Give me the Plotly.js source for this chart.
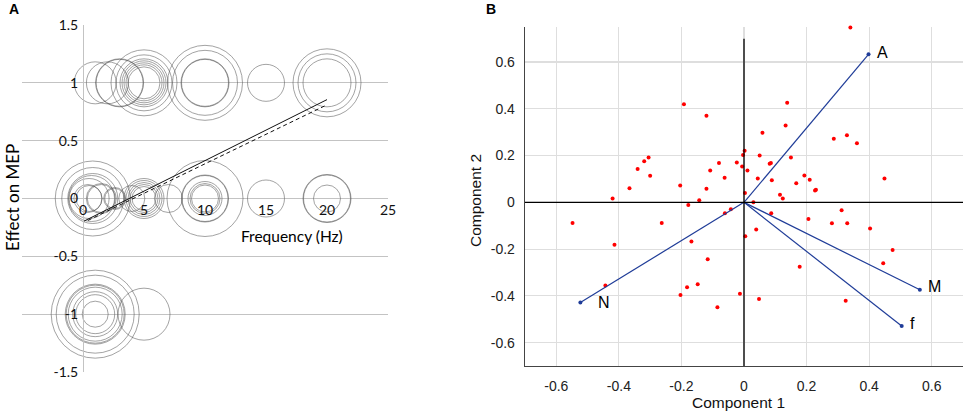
<!DOCTYPE html>
<html>
<head>
<meta charset="utf-8">
<script src="https://cdn.plot.ly/plotly-3.0.1.min.js"></script>
<style>
  html, body { margin: 0; padding: 0; background: #fff; }
  #chart { width: 964px; height: 414px; }
</style>
</head>
<body>
<div id="chart"></div>
<script>
// ---- panel A: bubble plot, frequency vs effect on MEP ----
const freqA = [1, 2, 3, 3, 5, 5, 5, 5, 5, 5, 5, 10, 10, 10, 10, 15, 20, 20, 20,
  0.8, 0.8, 0.8, 0.7, 0.5, 0.4, 0.5, 1.5, 1.5, 2.6, 2.6, 4, 5, 5, 5, 5, 5, 7,
  10, 10, 10, 10, 10, 10, 15, 20, 20, 20,
  1, 1, 1, 1, 1, 1, 1, 1, 5];
const effectA = [1, 1, 1, 1, 1, 1, 1, 1, 1, 1, 1, 1, 1, 1, 1, 1, 1, 1, 1,
  0, 0, 0, 0, 0, 0, 0, 0, 0, 0, 0, 0, 0, 0, 0, 0, 0, 0,
  0, 0, 0, 0, 0, 0, 0, 0, 0, 0,
  -1, -1, -1, -1, -1, -1, -1, -1, -1];
const sizeA = [42, 42, 47, 48, 66, 56, 48, 44, 40, 36, 32, 75, 65, 48, 47, 37, 68, 58, 48,
  75, 62, 50, 46, 40, 28, 26, 30, 28, 22, 20, 26, 40, 36, 32, 28, 24, 28,
  76, 46, 47, 34, 30, 27, 37, 47, 48, 27,
  88, 78, 60, 58, 54, 45, 39, 26, 52];
const fitX = [0, 20];
const fitY = [-0.2, 0.855];
const trendX = [0.4, 19.8];
const trendY = [-0.19, 0.8];
const ticksAx = [0, 5, 10, 15, 20, 25];
const ticksAy = [-1.5, -1, -0.5, 0, 0.5, 1, 1.5];

// ---- panel B: PCA scores and loadings ----
const comp1 = [0.340, -0.192, -0.120, 0.138, 0.133, 0.059, 0.287, 0.329, 0.361, 0.449,
  -0.420, -0.366, -0.340, -0.319, -0.305, -0.300, -0.204, -0.120, -0.143, -0.178,
  -0.108, -0.080, -0.062, -0.023, -0.006, -0.003, 0.002, 0.011, 0.003, 0.050,
  0.044, 0.082, 0.086, 0.089, 0.150, 0.193, 0.210, 0.167, 0.227, 0.230,
  0.115, 0.124, 0.030, -0.042, 0.312, -0.548, -0.414, -0.443, -0.263, -0.168,
  -0.116, -0.182, -0.148, -0.203, -0.085, -0.013, 0.048, -0.061, 0.004, 0.039,
  0.087, 0.206, 0.281, 0.330, 0.403, 0.475, 0.445, 0.178, 0.325];
const comp2 = [0.748, 0.420, 0.370, 0.426, 0.329, 0.298, 0.272, 0.287, 0.253, 0.102,
  0.016, 0.060, 0.143, 0.176, 0.192, 0.114, 0.072, 0.058, 0.009, -0.011,
  0.136, 0.168, 0.105, 0.170, 0.153, 0.202, 0.221, 0.136, 0.040, 0.200,
  0.102, 0.165, 0.168, 0.095, 0.192, 0.115, 0.097, 0.082, 0.051, 0.054,
  0.033, 0.016, 0.000, -0.030, -0.034, -0.088, -0.181, -0.356, -0.088, -0.167,
  -0.243, -0.363, -0.350, -0.396, -0.449, -0.391, -0.413, -0.047, -0.145, -0.116,
  -0.047, -0.071, -0.089, -0.089, -0.112, -0.204, -0.260, -0.275, -0.421];
const loadNames = ['A', 'M', 'f', 'N'];
const loadX = [0.398, 0.562, 0.504, -0.523];
const loadY = [0.633, -0.374, -0.529, -0.428];
const ticksB = [-0.6, -0.4, -0.2, 0, 0.2, 0.4, 0.6];

const blue = '#1f3c98';
const fontA = 'Lato, "Open Sans", sans-serif';
const fontB = '"Liberation Sans", Arial, sans-serif';

// vectors from origin, one segment per loading
let vecX = [], vecY = [];
loadX.forEach((x, i) => { vecX.push(0, x, null); vecY.push(0, loadY[i], null); });

const traces = [
  {
    x: freqA, y: effectA, type: 'scatter', mode: 'markers', xaxis: 'x', yaxis: 'y',
    marker: { size: sizeA, sizemode: 'diameter', color: 'rgba(0,0,0,0)',
      line: { color: 'rgba(70,70,70,0.7)', width: 1 } },
    hoverinfo: 'skip'
  },
  {
    x: fitX, y: fitY, type: 'scatter', mode: 'lines', xaxis: 'x', yaxis: 'y',
    line: { color: '#111', width: 1 }
  },
  {
    x: trendX, y: trendY, type: 'scatter', mode: 'lines', xaxis: 'x', yaxis: 'y',
    line: { color: '#111', width: 1, dash: '4px,3px' }
  },
  {
    x: comp1, y: comp2, type: 'scatter', mode: 'markers', xaxis: 'x2', yaxis: 'y2',
    marker: { size: 4, color: '#ff0000' }, cliponaxis: false
  },
  {
    x: vecX, y: vecY, type: 'scatter', mode: 'lines', xaxis: 'x2', yaxis: 'y2',
    line: { color: blue, width: 1.2 }
  },
  {
    x: loadX, y: loadY, type: 'scatter', mode: 'markers', xaxis: 'x2', yaxis: 'y2',
    marker: { size: 4, color: blue }
  }
];

const annotations = [
  { text: '<b>A</b>', xref: 'paper', yref: 'paper', x: 7 / 964, y: 1 - 9 / 414,
    xanchor: 'left', yanchor: 'middle', showarrow: false, font: { family: fontB, size: 14, color: '#000' } },
  { text: '<b>B</b>', xref: 'paper', yref: 'paper', x: 484 / 964, y: 1 - 9 / 414,
    xanchor: 'left', yanchor: 'middle', showarrow: false, font: { family: fontB, size: 14, color: '#000' } },
  { text: 'Effect on MEP', xref: 'paper', yref: 'paper', x: 12 / 964, y: 1 - 198 / 414,
    textangle: -90, showarrow: false, xanchor: 'center', yanchor: 'middle',
    font: { family: fontA, size: 17, color: '#000' } },
  { text: 'Frequency (Hz)', xref: 'paper', yref: 'paper', x: 292 / 964, y: 1 - 236 / 414,
    showarrow: false, xanchor: 'center', yanchor: 'middle',
    font: { family: fontA, size: 15.5, color: '#000' } },
  { text: 'Component 1', xref: 'paper', yref: 'paper', x: 738 / 964, y: 1 - 402 / 414,
    showarrow: false, xanchor: 'center', yanchor: 'middle',
    font: { family: fontB, size: 15.5, color: '#111' } },
  { text: 'Component 2', xref: 'paper', yref: 'paper', x: 476 / 964, y: 1 - 201 / 414,
    textangle: -90, showarrow: false, xanchor: 'center', yanchor: 'middle',
    font: { family: fontB, size: 15.5, color: '#111' } }
];
const labShift = { A: [6, 2], M: [6, 3], f: [6, 3], N: [16, 0] };
loadNames.forEach((n, i) => {
  annotations.push({
    text: n, x: loadX[i], y: loadY[i], xref: 'x2', yref: 'y2', showarrow: false,
    xanchor: 'left', yanchor: 'middle', xshift: labShift[n][0], yshift: labShift[n][1],
    font: { family: fontB, size: 16, color: '#000' }
  });
});

const layout = {
  width: 964, height: 414,
  margin: { l: 0, r: 0, t: 0, b: 0 },
  paper_bgcolor: '#fff', plot_bgcolor: '#fff',
  showlegend: false,
  xaxis: {
    domain: [22 / 964, 388 / 964], range: [-5, 25], anchor: 'free', position: 1 - 199 / 414,
    tickvals: ticksAx, ticktext: ticksAx.map(String), showgrid: false, zeroline: false,
    showline: false, ticks: '', ticklabelstandoff: 1,
    tickfont: { family: fontA, size: 14, color: '#111' }
  },
  yaxis: {
    domain: [42 / 414, 389 / 414], range: [-1.5, 1.5], anchor: 'free', position: 83 / 964,
    tickvals: ticksAy, ticktext: ticksAy.map(String), showgrid: true, gridcolor: '#c3c3c3',
    gridwidth: 1.3, zeroline: false, showline: true, linecolor: '#c3c3c3', linewidth: 1.3,
    ticks: '', ticklabelstandoff: 2,
    tickfont: { family: fontA, size: 14, color: '#111' }
  },
  xaxis2: {
    domain: [525 / 964, 963 / 964], range: [-0.7, 0.7], anchor: 'y2',
    tickvals: ticksB, ticktext: ticksB.map(String), showgrid: true, gridcolor: '#dedede',
    gridwidth: 1.2, zeroline: false, showline: true, linecolor: '#444', linewidth: 1.3,
    mirror: false, ticks: '', ticklabelstandoff: 7,
    tickfont: { family: fontB, size: 14, color: '#222' }
  },
  yaxis2: {
    domain: [48 / 414, 387 / 414], range: [-0.7, 0.75], anchor: 'x2',
    tickvals: ticksB, ticktext: ticksB.map(String), showgrid: true, gridcolor: '#dedede',
    gridwidth: 1.2, zeroline: false, showline: true, linecolor: '#444', linewidth: 1.3,
    ticks: '', ticklabelstandoff: 6,
    tickfont: { family: fontB, size: 14, color: '#222' }
  },
  shapes: [
    { type: 'line', xref: 'x2 domain', yref: 'y2', x0: 0, x1: 1, y0: 0, y1: 0,
      line: { color: '#000', width: 1.3 } },
    { type: 'line', xref: 'x2', yref: 'y2', x0: 0, x1: 0, y0: -0.7, y1: 0.7,
      line: { color: '#000', width: 1.3 } }
  ],
  annotations: annotations
};

Plotly.newPlot('chart', traces, layout, { staticPlot: true });
</script>
</body>
</html>
